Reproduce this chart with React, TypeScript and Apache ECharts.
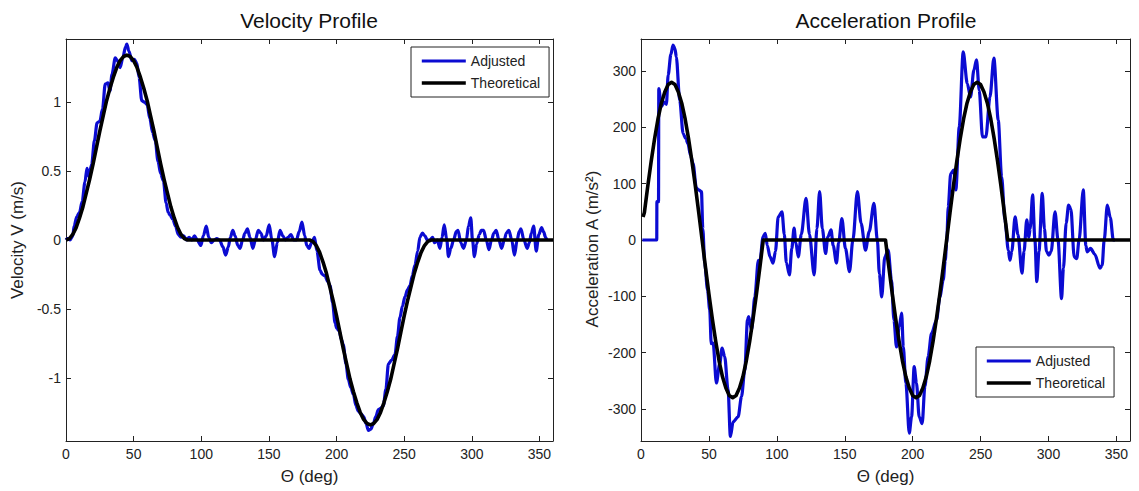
import React, { useEffect, useRef } from "react";
import * as echarts from "echarts";

const xTicks = [0, 50, 100, 150, 200, 250, 300, 350];
const velTicks = [-1, -0.5, 0, 0.5, 1];
const accTicks = [-300, -200, -100, 0, 100, 200, 300];

const seriesNames = ["Adjusted", "Theoretical"];

const velAdjusted: number[][] = [
  [0, 0], [1, 0.01], [3, 0], [5, 0.03], [6, 0.1], [8, 0.17], [10, 0.2], [12, 0.28], [14, 0.42],
  [15.5, 0.52], [17, 0.46], [19, 0.55], [21, 0.72], [23, 0.85], [25, 0.86], [27, 0.95], [29, 1.13],
  [31, 1.14], [32.5, 1.08], [34, 1.2], [36.4, 1.32], [38, 1.3], [40, 1.25], [42, 1.32], [44, 1.4],
  [45, 1.42], [46.5, 1.37], [48.7, 1.3], [50.5, 1.31], [52.4, 1.28], [54, 1.18], [56, 1.01], [58, 1.0],
  [60, 0.98], [62, 0.88], [64, 0.78], [66, 0.72], [68, 0.57], [70, 0.48], [72, 0.43], [74, 0.27],
  [75.5, 0.2], [77, 0.18], [79, 0.15], [81, 0.1], [83, 0.04], [85, 0.02], [87, 0.03], [89, 0],
  [91, 0.02], [93, 0], [95, 0.03], [97, 0], [99.7, -0.04], [101.5, 0.03], [103.7, 0.1], [105.5, 0.02],
  [107.5, -0.02], [109.5, 0], [111.5, 0.01], [113.5, 0], [116, -0.05], [118, -0.11], [120, -0.05],
  [121.5, 0.02], [123.3, 0.07], [125, 0.03], [127, -0.04], [128.7, -0.06], [130.5, 0], [132.3, 0.05],
  [134.1, 0.08], [136, 0.02], [138.1, -0.06], [140, 0], [142.1, 0.07], [144, 0.05], [146, 0], [148, 0.03],
  [150.2, 0.11], [152.2, 0], [154.2, -0.12], [156.2, -0.02], [158.2, 0.07], [160.2, 0.03], [162.2, 0],
  [164.2, 0.02], [166.3, 0.04], [168.3, 0], [170.3, 0], [172.4, 0.06], [174.4, 0.13], [176.5, 0.03],
  [178, -0.04], [179.7, -0.06], [181.5, -0.02], [183.7, 0.02], [185.5, -0.08], [187.8, -0.22],
  [189.5, -0.25], [191.5, -0.26], [193.5, -0.3], [195.2, -0.33], [197, -0.45], [198.9, -0.6],
  [200.1, -0.64], [202, -0.66], [203.5, -0.72], [205, -0.76], [207, -0.9], [208.7, -1.01],
  [210.5, -1.07], [212.5, -1.12], [214.3, -1.2], [216.1, -1.24], [218, -1.26], [220, -1.28],
  [221.8, -1.33], [223.5, -1.38], [225.4, -1.37], [227.2, -1.33], [229, -1.28], [230.9, -1.23],
  [232.7, -1.22], [234.6, -1.2], [236.5, -1.08], [238.3, -0.9], [240.7, -0.87], [243.2, -0.83],
  [245, -0.7], [246.9, -0.56], [248.7, -0.48], [250.6, -0.41], [252.5, -0.36], [254.3, -0.33],
  [256, -0.26], [258, -0.18], [260, -0.08], [261.6, 0.02], [263.5, 0.05], [265.3, 0.03], [267, 0],
  [269, 0], [271, 0.02], [272.5, -0.02], [274.5, 0], [276.4, -0.06], [278, 0.02], [279.6, 0.11],
  [281.5, 0], [282.7, -0.12], [284.5, -0.06], [286.5, 0], [288.5, 0.06], [289.8, 0.07], [291.8, -0.02],
  [293.9, -0.06], [296, 0], [297.5, 0.1], [299.2, 0.16], [300.5, 0], [301.9, -0.12], [303.5, -0.03],
  [305.5, 0.04], [307, 0.07], [308.7, 0.07], [310.7, 0], [312.7, -0.07], [314.5, 0], [316.3, 0.05],
  [318, 0.07], [320, 0], [322, -0.06], [324, 0], [325.5, 0.05], [327.4, 0.07], [329.5, 0],
  [331.5, -0.11], [333.5, 0], [335, 0.06], [336.3, 0.08], [338.5, 0], [340.9, -0.06], [342.5, -0.02],
  [344, 0.05], [345.7, 0.1], [347.6, -0.08], [349.5, 0.04], [351.6, 0.09], [353, 0.06], [354.5, 0.02],
  [355.5, 0],
];

const velTheoretical: number[][] = [
  [0, 0], [2.5, 0.01], [5, 0.04], [7.5, 0.09], [10, 0.16], [12.5, 0.24], [15, 0.34], [17.5, 0.44],
  [20, 0.55], [22.5, 0.67], [25, 0.79], [27.5, 0.9], [30, 1.01], [32.5, 1.1], [35, 1.18], [37.5, 1.25],
  [40, 1.3], [42.5, 1.33], [45, 1.34], [47.5, 1.33], [50, 1.3], [52.5, 1.25], [55, 1.18], [57.5, 1.1],
  [60, 1.01], [62.5, 0.9], [65, 0.79], [67.5, 0.67], [70, 0.55], [72.5, 0.44], [75, 0.34], [77.5, 0.24],
  [80, 0.16], [82.5, 0.09], [85, 0.04], [87.5, 0.01], [90, 0], [180, 0], [182.5, -0.01], [185, -0.04],
  [187.5, -0.09], [190, -0.16], [192.5, -0.24], [195, -0.34], [197.5, -0.44], [200, -0.55],
  [202.5, -0.67], [205, -0.79], [207.5, -0.9], [210, -1.01], [212.5, -1.1], [215, -1.18],
  [217.5, -1.25], [220, -1.3], [222.5, -1.33], [225, -1.34], [227.5, -1.33], [230, -1.3],
  [232.5, -1.25], [235, -1.18], [237.5, -1.1], [240, -1.01], [242.5, -0.9], [245, -0.79],
  [247.5, -0.67], [250, -0.55], [252.5, -0.44], [255, -0.34], [257.5, -0.24], [260, -0.16],
  [262.5, -0.09], [265, -0.04], [267.5, -0.01], [270, 0], [360, 0],
];

const accAdjusted: number[][] = [
  [1, 0], [11.6, 0], [11.7, 68], [12.9, 68], [13.1, 269], [15, 237], [17, 245], [18.7, 241], [20, 293],
  [22, 330], [23.6, 346], [25, 340], [26, 325], [28.5, 248], [31, 189], [33, 180], [34.6, 171],
  [36.5, 150], [38.3, 136], [40.8, 92], [42.4, 89], [44.5, 86], [45.5, 20], [46.9, -41], [49, -89],
  [50.6, -124], [51.7, -184], [53.1, -183], [55.5, -254], [58, -219], [59.7, -192], [61.6, -207],
  [64.1, -266], [65.8, -349], [67.8, -323], [71.5, -314], [74, -278], [76.4, -231], [78.4, -142],
  [79.3, -136], [81.3, -160], [83.8, -101], [86.4, -36], [87.4, -41], [89.9, 6], [91.5, 12], [93, -10],
  [95, -30], [97.2, -41], [99, -20], [101, 41], [103.8, 50], [105.5, 10], [107, -40], [109.3, -62],
  [111, -15], [112.7, 21], [114, -5], [115.8, -30], [118, 10], [121.5, 74], [124, 10], [127.5, -62],
  [129.5, 20], [131.5, 86], [133.5, 20], [135.9, -24], [137.5, 5], [139.9, 18], [141.5, -10],
  [143.9, -41], [145.5, -5], [147.9, 38], [150.5, -15], [153.5, -56], [156, 0], [159.3, 86], [162, 30],
  [165.3, -18], [168, 15], [171.5, 65], [174, 0], [175.5, -60], [177.2, -101], [179.5, -30], [182, -18],
  [184.4, -71], [186.2, -142], [188.1, -190], [190.1, -154], [191.9, -130], [193.1, -190], [195, -254],
  [197.5, -343], [199.2, -314], [201.1, -225], [202.8, -254], [204.8, -314], [207, -326], [209, -260],
  [211.4, -207], [213.9, -166], [217.6, -142], [220, -101], [222.5, -71], [224, -36], [225, -6],
  [226.2, 59], [228, 118], [230.3, 124], [231.8, 89], [234.3, 201], [237.2, 334], [240.2, 278],
  [242.6, 254], [245.1, 302], [247, 320], [249, 266], [251.4, 183], [253.9, 183], [256.9, 254],
  [259.8, 323], [263, 213], [265.5, 112], [267.9, 36], [270.4, -18], [271.6, -36], [273, -20],
  [275.4, 41], [277.5, 10], [280.5, -59], [282, -20], [284, 36], [285.5, 5], [286.5, 20], [288.3, 80],
  [290, 0], [291.4, -74], [293, -20], [295.4, 83], [297, 20], [298.5, -20], [300.3, -27], [302, -20],
  [304.8, 50], [307, 0], [309.6, -104], [311, -50], [313, 30], [314.8, 62], [316.5, 55], [318.9, -30],
  [320.8, -33], [322.5, 0], [325.6, 89], [327.5, -10], [328.5, -21], [331, -15], [334, -25],
  [337.9, -50], [339.5, -45], [341, 0], [343.3, 62], [345.5, 40], [347.7, 0], [349, 0],
];

const accTheoretical: number[][] = [
  [1.5, 41], [2.5, 49], [5, 96], [7.5, 140], [10, 180], [12.5, 215], [15, 243], [17.5, 263], [20, 276],
  [22.5, 280], [25, 276], [27.5, 263], [30, 243], [32.5, 215], [35, 180], [37.5, 140], [40, 96],
  [42.5, 49], [45, 0], [47.5, -49], [50, -96], [52.5, -140], [55, -180], [57.5, -215], [60, -243],
  [62.5, -263], [65, -276], [67.5, -280], [70, -276], [72.5, -263], [75, -243], [77.5, -215],
  [80, -180], [82.5, -140], [85, -96], [87.5, -49], [90, 0], [180, 0], [182.5, -49], [185, -96],
  [187.5, -140], [190, -180], [192.5, -215], [195, -243], [197.5, -263], [200, -276], [202.5, -280],
  [205, -276], [207.5, -263], [210, -243], [212.5, -215], [215, -180], [217.5, -140], [220, -96],
  [222.5, -49], [225, 0], [227.5, 49], [230, 96], [232.5, 140], [235, 180], [237.5, 215], [240, 243],
  [242.5, 263], [245, 276], [247.5, 280], [250, 276], [252.5, 263], [255, 243], [257.5, 215],
  [260, 180], [262.5, 140], [265, 96], [267.5, 49], [270, 0], [360, 0],
];

const FONT = "'Liberation Sans', Arial, Helvetica, sans-serif";
const INK = "#222";
const BLUE = "#0b0bd2";
const BLACK = "#000000";

function makeX(gridIndex: number) {
  const base = {
    type: "value" as const,
    gridIndex,
    min: 0,
    max: 360,
    splitLine: { show: false },
    axisLine: { show: true, onZero: false, lineStyle: { color: INK, width: 1 } },
    axisTick: { show: true, inside: true, length: 5, customValues: xTicks, lineStyle: { color: INK } },
  };
  return [
    {
      ...base,
      position: "bottom",
      name: "\u0398 (deg)",
      nameLocation: "middle",
      nameGap: 27,
      nameTextStyle: { fontSize: 17, color: INK, fontFamily: FONT },
      axisLabel: { show: true, customValues: xTicks, margin: 6, fontSize: 14, color: INK, fontFamily: FONT },
    },
    { ...base, position: "top", axisLabel: { show: false } },
  ];
}

function makeY(gridIndex: number, lim: number, ticks: number[], name: string, namePad: number[]) {
  const base = {
    type: "value" as const,
    gridIndex,
    min: -lim,
    max: lim,
    splitLine: { show: false },
    axisLine: { show: true, onZero: false, lineStyle: { color: INK, width: 1 } },
    axisTick: { show: true, inside: true, length: 5, customValues: ticks, lineStyle: { color: INK } },
  };
  return [
    {
      ...base,
      position: "left",
      name,
      nameLocation: "middle",
      nameRotate: 90,
      nameGap: 40,
      nameTextStyle: { fontSize: 17, color: INK, fontFamily: FONT, padding: namePad },
      axisLabel: { show: true, customValues: ticks, margin: 5, fontSize: 14, color: INK, fontFamily: FONT },
    },
    { ...base, position: "right", axisLabel: { show: false } },
  ];
}

function makeLegend(left: number, top: number) {
  return {
    data: seriesNames,
    orient: "vertical",
    left,
    top,
    padding: [7, 9, 7, 9],
    itemWidth: 44,
    itemHeight: 14,
    itemGap: 8,
    borderColor: INK,
    borderWidth: 1,
    backgroundColor: "#ffffff",
    selectedMode: false,
    textStyle: { fontSize: 14, color: INK, fontFamily: FONT },
    itemStyle: { opacity: 0, borderWidth: 0 },
    lineStyle: { width: "inherit", opacity: 1 },
  };
}

function line(name: string, data: number[][], idx: number, color: string, width: number, smooth: number) {
  return {
    type: "line",
    name,
    data,
    xAxisIndex: idx,
    yAxisIndex: idx,
    showSymbol: false,
    symbol: "none",
    smooth,
    smoothMonotone: "x",
    color,
    lineStyle: { color, width, join: "round" },
    z: name === "Theoretical" ? 3 : 2,
  };
}

export default function App() {
  const ref = useRef<HTMLDivElement>(null);
  useEffect(() => {
    if (!ref.current) return;
    const chart = echarts.init(ref.current, undefined, { renderer: "svg" });
    chart.setOption({
      animation: false,
      backgroundColor: "#ffffff",
      textStyle: { fontFamily: FONT },
      grid: [
        { left: 66, top: 39, width: 487, height: 402 },
        { left: 641, top: 39, width: 489, height: 402 },
      ],
      xAxis: [...makeX(0), ...makeX(1)],
      yAxis: [
        ...makeY(0, 1.457, velTicks, "Velocity V (m/s)", [0, 0, 0, 0]),
        ...makeY(1, 357, accTicks, "Acceleration A (m/s\u00B2)", [0, 18, 0, 0]),
      ],
      legend: [makeLegend(411, 47), makeLegend(976, 347)],
      graphic: [
        {
          type: "text",
          x: 309,
          y: 20,
          style: { text: "Velocity Profile", fontSize: 21, fontFamily: FONT, fill: "#111", align: "center", verticalAlign: "middle" },
        },
        {
          type: "text",
          x: 886,
          y: 20,
          style: { text: "Acceleration Profile", fontSize: 21, fontFamily: FONT, fill: "#111", align: "center", verticalAlign: "middle" },
        },
      ],
      series: [
        line("Adjusted", velAdjusted, 0, BLUE, 3.2, 0.3),
        line("Theoretical", velTheoretical, 0, BLACK, 3.6, 0),
        line("Adjusted", accAdjusted, 2, BLUE, 3.2, 0.3),
        line("Theoretical", accTheoretical, 2, BLACK, 3.6, 0),
      ],
    });
    return () => chart.dispose();
  }, []);
  return (
    <div
      ref={ref}
      style={{ position: "absolute", left: 0, top: 0, width: 1139, height: 491, background: "#fff" }}
    />
  );
}
